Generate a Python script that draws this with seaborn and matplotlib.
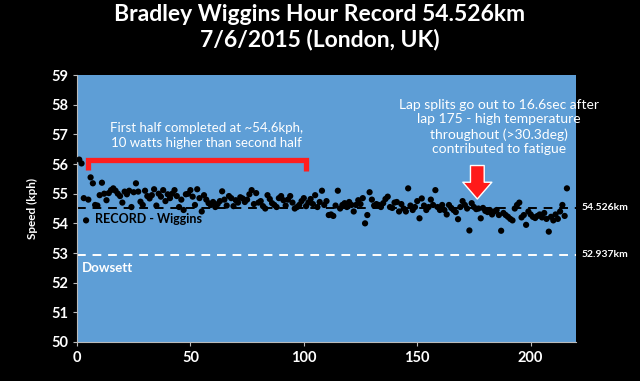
import matplotlib
matplotlib.use("Agg")
import matplotlib.pyplot as plt
import numpy as np
import pandas as pd
import seaborn as sns

# lap speeds (kph), one per lap
speeds = [
    56.15, 56.02, 54.85, 54.10, 54.80, 55.55, 55.35, 54.62, 54.60, 54.95,
    55.37, 55.00, 54.78, 55.02, 55.12, 55.18, 55.10, 55.00, 54.92, 54.70,
    55.07, 54.98, 55.10, 54.55, 55.05, 55.35, 55.07, 54.73, 54.62, 55.10,
    54.92, 54.84, 54.95, 55.15, 54.60, 55.00, 54.90, 55.12, 54.75, 54.98,
    54.85, 55.00, 55.12, 54.92, 54.55, 54.80, 54.45, 54.98, 55.00, 55.12,
    54.90, 54.62, 55.15, 54.85, 54.40, 54.95, 54.80, 54.68, 54.62, 54.72,
    54.55, 54.65, 54.75, 55.08, 54.80, 54.60, 54.92, 54.85, 54.58, 54.78,
    54.70, 54.88, 54.84, 54.72, 54.80, 54.98, 55.12, 54.65, 55.02, 54.70,
    54.75, 54.58, 54.50, 54.95, 54.82, 54.68, 54.62, 54.55, 54.85, 54.92,
    54.78, 54.60, 54.80, 54.92, 54.70, 54.50, 54.55, 54.62, 54.75, 54.85,
    54.58, 54.70, 54.82, 54.65, 54.95, 54.55, 54.72, 55.10, 54.62, 54.75,
    54.28, 54.30, 54.25, 54.60, 55.10, 54.50, 54.62, 54.68, 54.55, 54.72,
    54.62, 54.40, 54.62, 54.78, 54.65, 54.85, 54.00, 54.28, 55.05, 54.80,
    54.60, 54.65, 54.62, 54.55, 54.68, 54.82, 54.90, 54.55, 54.52, 54.70,
    54.72, 54.40, 54.65, 54.50, 54.40, 55.18, 54.60, 54.45, 54.55, 54.75,
    54.17, 54.84, 54.60, 54.45, 54.55, 54.80, 54.62, 55.12, 54.55, 54.45,
    54.62, 54.45, 54.30, 54.62, 54.52, 54.45, 54.38, 54.14, 54.55, 54.75,
    54.62, 54.50, 53.76, 54.68, 54.55, 54.48, 54.50, 54.17, 54.52, 54.42,
    54.38, 54.45, 54.30, 54.40, 54.45, 54.28, 53.75, 54.35, 54.28, 54.22,
    54.15, 54.10, 54.50, 54.62, 54.70, 54.20, 54.28, 53.95, 54.40, 54.30,
    54.22, 54.18, 54.25, 54.30, 54.20, 54.35, 54.15, 53.72, 54.22, 54.10,
    54.30, 54.15, 54.40, 54.62, 54.25, 55.18,
]
laps = list(range(1, len(speeds) + 1))

record_wiggins = 54.526
record_dowsett = 52.937
x_ticks = [0, 50, 100, 150, 200]
y_ticks = list(range(50, 60))

df = pd.DataFrame({"lap": laps, "speed": speeds})

plt.rcParams['font.family'] = ['Lato', 'DejaVu Sans']

fig = plt.figure(figsize=(6.4, 3.81), dpi=100, facecolor="black")
ax = fig.add_axes([0.1203, 0.1024, 0.7797, 0.7006])
ax.set_facecolor("#5E9ED6")

sns.scatterplot(data=df, x="lap", y="speed", ax=ax, color="black",
                s=20, edgecolor="none", zorder=3)

# record lines
ax.axhline(record_wiggins, color="black", lw=1.4, ls=(0, (4.5, 3.5)), zorder=2)
ax.axhline(record_dowsett, color="white", lw=1.4, ls=(0, (4.5, 3.5)), zorder=2)

ax.set_xlim(0, 220)
ax.set_ylim(50, 59)
ax.set_xticks(x_ticks)
ax.set_yticks(y_ticks)
ax.tick_params(colors="#BBBBBB", labelcolor="white", labelsize=10.5, length=3)
for lbl in ax.get_xticklabels() + ax.get_yticklabels():
    lbl.set_fontweight("bold")
for side in ["top", "right"]:
    ax.spines[side].set_visible(False)
for side in ["left", "bottom"]:
    ax.spines[side].set_color("#BBBBBB")
ax.set_xlabel("")
ax.set_ylabel("Speed (kph)", color="white", fontsize=8.5, fontweight="bold", labelpad=9)

fig.suptitle("Bradley Wiggins Hour Record 54.526km\n7/6/2015 (London, UK)",
             color="white", fontsize=16.5, fontweight="bold", y=0.99, linespacing=1.2)

# line labels
ax.text(1.012, record_wiggins, "54.526km", transform=ax.get_yaxis_transform(),
        color="white", fontsize=7.5, fontweight="bold", va="center", ha="left")
ax.text(1.012, record_dowsett, "52.937km", transform=ax.get_yaxis_transform(),
        color="white", fontsize=7.5, fontweight="bold", va="center", ha="left")
ax.text(8, 54.14, "RECORD - Wiggins", color="black", fontsize=9,
        fontweight="bold", va="center")
ax.text(2.3, 52.5, "Dowsett", color="white", fontsize=9.5,
        fontweight="bold", va="center")

# first half bracket
ax.plot([5, 5, 101, 101], [55.8, 56.15, 56.15, 55.75], color="#FF1E1E",
        lw=3.8, solid_joinstyle="miter", solid_capstyle="butt", zorder=4)
ax.text(57, 56.97, "First half completed at ~54.6kph,\n10 watts higher than second half",
        color="white", fontsize=9.5, ha="center", va="center", linespacing=1.3)

# second half note + arrow
ax.text(186, 57.25, "Lap splits go out to 16.6sec after\nlap 175 - high temperature\n"
        "throughout (>30.3deg)\ncontributed to fatigue",
        color="white", fontsize=10, ha="center", va="center", linespacing=1.25)
ax.annotate("", xy=(176.5, 54.82), xytext=(176.5, 55.95),
            arrowprops=dict(arrowstyle="simple,head_length=0.55,head_width=0.95,tail_width=0.45",
                            fc="#FF1A1A", ec="white", lw=1.0, mutation_scale=22,
                            shrinkA=0, shrinkB=0), zorder=5)

fig.savefig("out.png", dpi=100, facecolor="black")
